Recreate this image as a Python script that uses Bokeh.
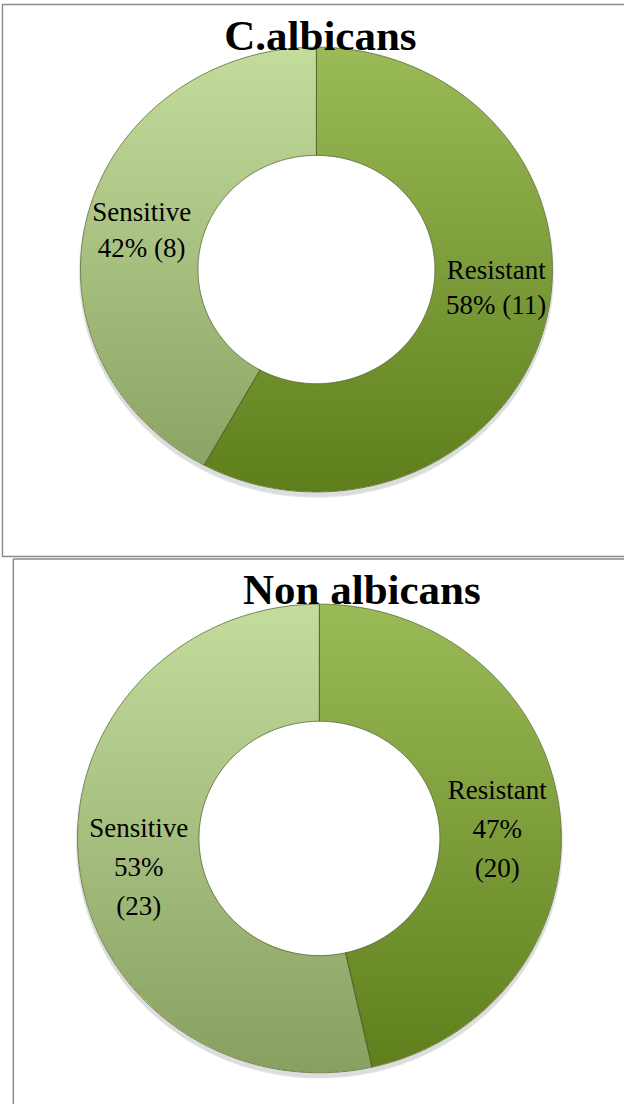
import numpy as np
from bokeh.plotting import figure
from bokeh.models import Range1d
from bokeh.embed import file_html
from bokeh.resources import INLINE
from bokeh.core.properties import value

# ---------------- data ----------------
titles = ["C.albicans", "Non albicans"]
categories = ["Resistant", "Sensitive"]
counts_albicans = [11, 8]
counts_non_albicans = [20, 23]
pct_albicans = [58, 42]
pct_non_albicans = [47, 53]
slice_colors = ["#9bbb59", "#c4dd9d"]

# ---------------- layout (reference pixel coords) ----------------
W, H = 624, 1104
def Y(yp):
    return 1112 - yp

charts = [
    dict(title=titles[0], counts=counts_albicans, pcts=pct_albicans,
         cx=320, cy=271, rxo=239, ryo=224, rxi=120, ryi=115, title_xy=(324, 35),
         label_xy=[(502, 289), (143, 231)], line_h=1.18,
         labels=[f"{categories[0]}\n{pct_albicans[0]}% ({counts_albicans[0]})",
                 f"{categories[1]}\n{pct_albicans[1]}% ({counts_albicans[1]})"]),
    dict(title=titles[1], counts=counts_non_albicans, pcts=pct_non_albicans,
         cx=323, cy=844, rxo=245, ryo=236, rxi=122, ryi=118, title_xy=(366, 593),
         label_xy=[(503, 834), (140, 873)], line_h=1.3,
         labels=[f"{categories[0]}\n{pct_non_albicans[0]}%\n({counts_non_albicans[0]})",
                 f"{categories[1]}\n{pct_non_albicans[1]}%\n({counts_non_albicans[1]})"]),
]

p = figure(width=W, height=H, x_range=Range1d(0, 632), y_range=Range1d(0, 1112),
           output_backend="svg", toolbar_location=None, min_border=0,
           background_fill_color="white", border_fill_color="white")
p.axis.visible = False
p.grid.visible = False
p.outline_line_color = None

# panel borders
p.line([700, 2, 2, 700], [Y(4), Y(4), Y(560), Y(560)], line_color="#8c8c8c", line_width=1.5)
p.line([13, 13, 700], [Y(1150), Y(562.5), Y(562.5)], line_color="#8c8c8c", line_width=1.5)


def ring_sector(cx, cy, rxo, ryo, rxi, ryi, a0, a1, n=240):
    th = np.linspace(a0, a1, n)
    xo = cx + rxo * np.cos(th)
    yo = cy + ryo * np.sin(th)
    xi = cx + rxi * np.cos(th[::-1])
    yi = cy + ryi * np.sin(th[::-1])
    return list(np.concatenate([xo, xi])), list(np.concatenate([yo, yi]))


def disc_below(cx, cy, rx, ry, t, n=120):
    s = np.clip((t - cy) / ry, -1, 1)
    a0 = np.pi - np.arcsin(s)
    a1 = 2 * np.pi + np.arcsin(s)
    th = np.linspace(a0, a1, n)
    return list(cx + rx * np.cos(th)), list(cy + ry * np.sin(th))


for c in charts:
    cx, cy = c["cx"], Y(c["cy"])
    rxo, ryo, rxi, ryi = c["rxo"], c["ryo"], c["rxi"], c["ryi"]
    total = sum(c["counts"])
    fracs = [v / total for v in c["counts"]]

    # slice polygons (clockwise from 12 o'clock)
    sx, sy = [], []
    a = np.pi / 2
    for f in fracs:
        a_end = a - 2 * np.pi * f
        px, py = ring_sector(cx, cy, rxo, ryo, rxi, ryi, a, a_end)
        sx.append(px)
        sy.append(py)
        a = a_end

    # soft shadow
    p.ellipse(x=[cx], y=[cy - 5], width=2 * rxo + 2, height=2 * ryo + 2,
              fill_color="#7f7f7f", fill_alpha=0.18, line_color=None)
    p.ellipse(x=[cx], y=[cy - 3], width=2 * rxo + 4, height=2 * ryo + 4,
              fill_color="#9f9f9f", fill_alpha=0.15, line_color=None)

    # slices
    p.patches(sx, sy, fill_color=slice_colors, line_color=None)

    # vertical shading (light top -> darker bottom)
    N = 60
    xs, ys = [], []
    for k in range(N):
        t = cy + ryo - (2 * ryo) * k / N
        px, py = disc_below(cx, cy, rxo, ryo, t)
        xs.append(px)
        ys.append(py)
    p.patches(xs, ys, fill_color="black", fill_alpha=0.005, line_color=None)

    # hole
    p.ellipse(x=[cx], y=[cy], width=2 * rxi, height=2 * ryi, fill_color="white", line_color=None)

    # outlines / separators
    p.patches(sx, sy, fill_alpha=0, line_color="#4f6228", line_alpha=0.75, line_width=1)

    # title
    tx, ty = c["title_xy"]
    p.text(x=[tx], y=[Y(ty)], text=[c["title"]], text_align="center", text_baseline="alphabetic",
           text_font=value("Liberation Serif"), text_font_style="bold", text_font_size="43px",
           text_color="black")

    # labels
    lx = [xy[0] for xy in c["label_xy"]]
    ly = [Y(xy[1]) for xy in c["label_xy"]]
    p.text(x=lx, y=ly, text=c["labels"], text_align="center", text_baseline="middle",
           text_font=value("Liberation Serif"), text_font_size="27px", text_color="black",
           text_line_height=c["line_h"])

open("out.html", "w").write(file_html(p, INLINE))
